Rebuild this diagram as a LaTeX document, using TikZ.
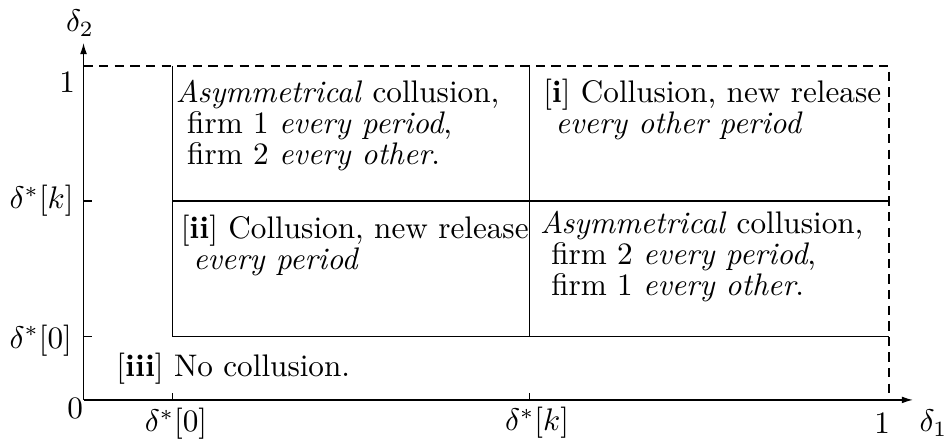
\documentclass[tikz,border=0pt]{standalone}
\usepackage{amsmath}
\usepackage{amssymb}
\usepackage{tikz}
\usetikzlibrary{arrows.meta, positioning, calc}

\begin{document}
\begin{tikzpicture}[
    x=258.2pt, y=107.05pt,
    axis/.style={-{Latex[length=3.6pt,width=2.2pt]}},
    limit/.style={dash pattern=on 3pt off 2pt},
    region/.style={anchor=north west, inner sep=0pt, align=left},
    ticklab/.style={inner sep=0pt},
  ]
  \useasboundingbox (-0.1037,-0.1228) rectangle (1.0708,1.1976);

  % corner points
  \coordinate (O)    at (0,0);
  \coordinate (xend) at (1.0298,0);
  \coordinate (yend) at (0,1.069);
  \coordinate (d0x)  at (0.11,0);
  \coordinate (dkx)  at (0.554,0);
  \coordinate (d0y)  at (0,0.189);
  \coordinate (dky)  at (0,0.596);
  \coordinate (top0) at (0,1);
  \coordinate (topA) at (0.11,1);
  \coordinate (topB) at (0.554,1);
  \coordinate (top1) at (1,1);
  \coordinate (one)  at (1,0);
  \coordinate (midA) at (0.11,0.596);
  \coordinate (midB) at (1,0.596);
  \coordinate (lowA) at (0.11,0.189);
  \coordinate (lowB) at (0.554,0.189);
  \coordinate (lowC) at (1,0.189);

  % axes and ticks
  \draw[axis] (O) -- (xend);
  \draw[axis] (O) -- (yend);
  \draw (d0x) -- ++(0,0.021);
  \draw (dkx) -- ++(0,0.021);
  \draw (d0y) -- ++(0.0099,0);
  \draw (dky) -- ++(0.0099,0);

  % regions
  \draw[limit] (top0) -- (top1) -- (one);
  \draw (topA) -- (lowA) -- (lowC);
  \draw (topB) -- (lowB);
  \draw (midA) -- (midB);

  % axis labels
  \node[ticklab, anchor=south] (d2lab) at (-0.0043,1.087) {$\delta_2$};
  \node[ticklab, anchor=west]  (d1lab) at (1.0372,-0.07) {$\delta_1$};
  \node[ticklab, anchor=north east] (y1lab)  at (-0.0099,0.982) {$1$};
  \node[ticklab, anchor=east]       (yklab)  at (-0.0115,0.596) {$\delta^*[k]$};
  \node[ticklab, anchor=east]       (y0lab)  at (-0.0137,0.178) {$\delta^*[0]$};
  \node[ticklab, anchor=north east] (zero)   at (0,0.006) {$0$};
  \node[ticklab, anchor=north]      (x0lab)  at (0.1148,-0.024) {$\delta^*[0]$};
  \node[ticklab, anchor=north]      (xklab)  at (0.563,-0.021) {$\delta^*[k]$};
  \node[ticklab, anchor=north east] (x1lab)  at (1.0019,-0.039) {$1$};

  % region texts
  \node[region] (asym1) at (0.114,0.958)
    {\textit{Asymmetrical} collusion,\\[-2.1pt]\hspace*{3.6pt}firm 1 \textit{every period},\\[-2.1pt]\hspace*{3.6pt}firm 2 \textit{every other}.};
  \node[region] (collA) at (0.57,0.963)
    {[\textbf{i}] Collusion, new release\\[-2.1pt]\hspace*{4pt}\textit{every other period}};
  \node[region] (collB) at (0.12,0.556)
    {[\textbf{ii}] Collusion, new release\\[-2.1pt]\hspace*{4pt}\textit{every period}};
  \node[region] (asym2) at (0.566,0.567)
    {\textit{Asymmetrical} collusion,\\[-2.1pt]\hspace*{3.6pt}firm 2 \textit{every period},\\[-2.1pt]\hspace*{3.6pt}firm 1 \textit{every other}.};
  \node[inner sep=0pt, anchor=base west] (nocoll) at (0.0401,0.0704)
    {[\textbf{iii}] No collusion.};
\end{tikzpicture}
\end{document}
